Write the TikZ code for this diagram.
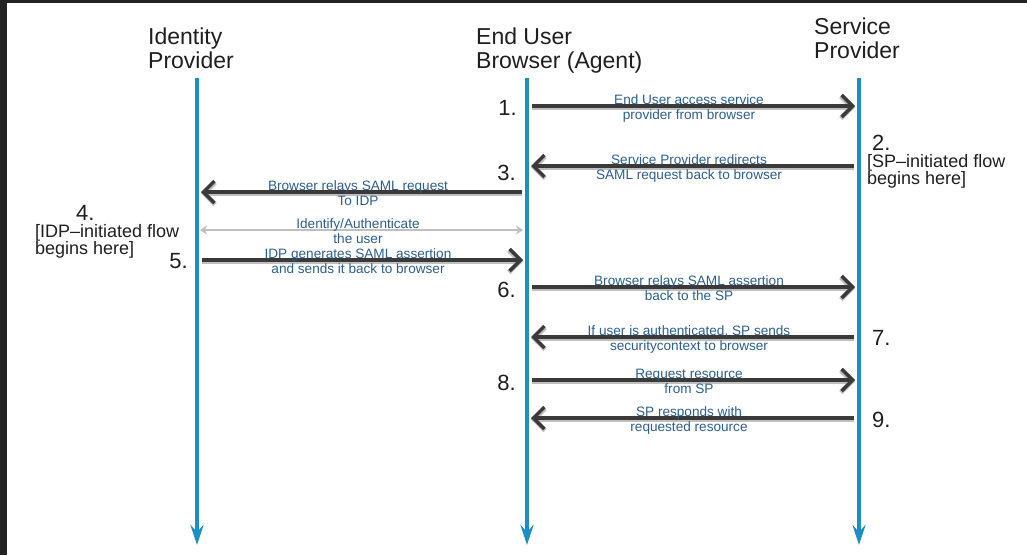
\documentclass[tikz,border=0pt]{standalone}
\usepackage{fontspec}
\setmainfont{Liberation Sans}
\usetikzlibrary{arrows.meta,positioning,calc}
\definecolor{lifeblue}{HTML}{1B8EC4}
\definecolor{msgtext}{HTML}{2C5F8C}
\definecolor{msggray}{HTML}{3A3A3A}
\definecolor{framegray}{HTML}{232323}

\begin{document}
\begin{tikzpicture}[
    x=1pt, y=-1pt,
    party/.style={anchor=north west, inner sep=0pt, align=left, text=black!88, font=\fontsize{23}{23.5}\selectfont},
    stepno/.style={inner sep=0pt, text=black!88, font=\fontsize{22}{22}\selectfont},
    note/.style={anchor=north west, inner sep=0pt, align=left, text=black!88, font=\fontsize{18}{17}\selectfont},
    lifeline/.style={draw=lifeblue, line width=3.5pt, -{Stealth[length=20pt, width=13pt, inset=7pt]}},
    msg/.style={draw=msggray, line width=3.5pt, shorten <=5pt, shorten >=4pt,
        -{Straight Barb[length=11pt, width=22pt]},
        preaction={draw=black!25, line width=4.5pt, transform canvas={yshift=-1.5pt}}},
    authmsg/.style={draw=black!25, line width=2.5pt, shorten <=3pt, shorten >=4pt,
        {Stealth[length=7pt, width=9pt]}-{Stealth[length=7pt, width=9pt]}},
    lbl/.style={midway, anchor=base, align=center, inner sep=0pt, text=msgtext,
        xshift=-4pt, yshift=-13pt, font=\fontsize{13.6}{15}\selectfont}
]

% canvas and dark window edge
\useasboundingbox (0,0) rectangle (1027,555);
\fill[white] (0,0) rectangle (1027,555);
\fill[framegray] (0,0) rectangle (1027,3);
\fill[framegray] (0,0) rectangle (7,555);

% Parties
\node[party] (idp) at (148,28) {Identity\\Provider};
\node[party] (ua) at (476,28) {End User\\Browser (Agent)};
\node[party] (sp) at (814,18) {Service\\Provider};

% Lifelines
\coordinate (idp top) at (197,78);
\coordinate (idp end) at (197,545);
\coordinate (ua top) at (527,78);
\coordinate (ua end) at (527,545);
\coordinate (sp top) at (859,78);
\coordinate (sp end) at (859,545);
\draw[lifeline] (idp top) -- (idp end);
\draw[lifeline] (ua top) -- (ua end);
\draw[lifeline] (sp top) -- (sp end);

% Message end points on the lifelines
\coordinate (m1 ua) at (ua top |- 0,106);   \coordinate (m1 sp) at (sp top |- 0,106);
\coordinate (m2 sp) at (sp top |- 0,166);   \coordinate (m2 ua) at (ua top |- 0,166);
\coordinate (m3 ua) at (ua top |- 0,192);   \coordinate (m3 idp) at (idp top |- 0,192);
\coordinate (m4 idp) at (idp top |- 0,230); \coordinate (m4 ua) at (ua top |- 0,230);
\coordinate (m5 idp) at (idp top |- 0,260); \coordinate (m5 ua) at (ua top |- 0,260);
\coordinate (m6 ua) at (ua top |- 0,287);   \coordinate (m6 sp) at (sp top |- 0,287);
\coordinate (m7 sp) at (sp top |- 0,337);   \coordinate (m7 ua) at (ua top |- 0,337);
\coordinate (m8 ua) at (ua top |- 0,380);   \coordinate (m8 sp) at (sp top |- 0,380);
\coordinate (m9 sp) at (sp top |- 0,418);   \coordinate (m9 ua) at (ua top |- 0,418);

% Messages
\draw[msg] (m1 ua) -- (m1 sp)
    node[lbl] (l1) {End User access service\\provider from browser};
\draw[msg] (m2 sp) -- (m2 ua)
    node[lbl] (l2) {Service Provider redirects\\SAML request back to browser};
\draw[msg] (m3 ua) -- (m3 idp)
    node[lbl] (l3) {Browser relays SAML request\\To IDP};
\draw[authmsg] (m4 idp) -- (m4 ua)
    node[lbl] (l4) {Identify/Authenticate\\the user};
\draw[msg] (m5 idp) -- (m5 ua)
    node[lbl] (l5) {IDP generates SAML assertion\\and sends it back to browser};
\draw[msg] (m6 ua) -- (m6 sp)
    node[lbl] (l6) {Browser relays SAML assertion\\back to the SP};
\draw[msg] (m7 sp) -- (m7 ua)
    node[lbl] (l7) {If user is authenticated, SP sends\\securitycontext to browser};
\draw[msg] (m8 ua) -- (m8 sp)
    node[lbl] (l8) {Request resource\\from SP};
\draw[msg] (m9 sp) -- (m9 ua)
    node[lbl] (l9) {SP responds with\\requested resource};

% Step numbers
\node[stepno, anchor=base east] (s1) at (517,115) {1.};
\node[stepno, anchor=base west] (s2) at (872,150) {2.};
\node[stepno, anchor=base east] (s3) at (516,180) {3.};
\node[stepno, anchor=base west] (s4) at (76,220) {4.};
\node[stepno, anchor=base east] (s5) at (188,268) {5.};
\node[stepno, anchor=base east] (s6) at (516,297) {6.};
\node[stepno, anchor=base west] (s7) at (872,345) {7.};
\node[stepno, anchor=base east] (s8) at (516,390) {8.};
\node[stepno, anchor=base west] (s9) at (872,427) {9.};

% Where each flow starts
\node[note] (spstart) at (867,154) {[SP–initiated flow\\begins here]};
\node[note] (idpstart) at (35,224) {[IDP–initiated flow\\begins here]};

\end{tikzpicture}
\end{document}
